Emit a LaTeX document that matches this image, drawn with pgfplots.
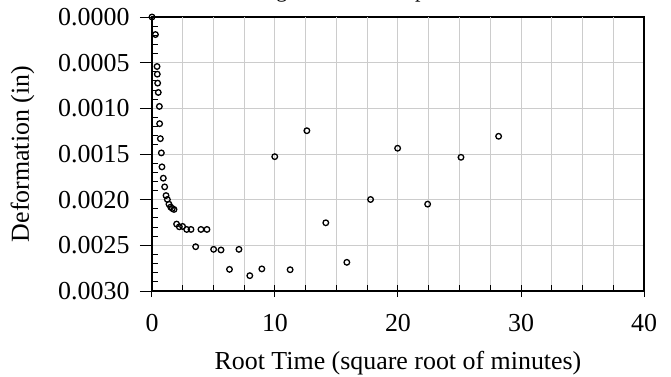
\documentclass[border=0pt]{standalone}
\usepackage{pgfplots}
\pgfplotsset{compat=1.18}
\usepackage{fontspec}
\setmainfont{Liberation Serif}

\begin{document}
\begin{tikzpicture}[font=\fontsize{26}{31}\selectfont]
\begin{axis}[
    scale only axis,
    width=492bp, height=274bp,
    xmin=0, xmax=40,
    ymin=0, ymax=0.003,
    y dir=reverse,
    xtick={0,10,20,30,40},
    ytick={0,0.0005,0.001,0.0015,0.002,0.0025,0.003},
    extra x ticks={2.5,5,7.5,12.5,15,17.5,22.5,25,27.5,32.5,35,37.5},
    extra x tick labels={},
    extra x tick style={tick align=inside, major tick length=6bp, grid=major},
    extra y ticks={0.0001,0.0002,0.0003,0.0004,0.0006,0.0007,0.0008,0.0009,0.0011,0.0012,0.0013,0.0014,0.0016,0.0017,0.0018,0.0019,0.0021,0.0022,0.0023,0.0024,0.0026,0.0027,0.0028,0.0029},
    extra y tick labels={},
    extra y tick style={tick align=inside, major tick length=6bp, grid=none},
    xtick align=center, ytick align=outside,
    major tick length=12bp,
    xtick pos=bottom, ytick pos=left,
    scaled y ticks=false,
    /pgf/number format/assume math mode=true,
    xmajorgrids=true, ymajorgrids=true,
    major grid style={gray!40, line width=1bp},
    tick style={black, line width=1bp},
    axis line style={line width=1.6bp},
    tick label style={font=\fontsize{26}{31}\selectfont},
    xticklabel style={yshift=-14bp},
    yticklabel style={xshift=-7bp, /pgf/number format/.cd, fixed, fixed zerofill, precision=4},
    xlabel={Root Time (square root of minutes)},
    ylabel={Deformation (in)},
    xlabel style={at={(axis description cs:0.5,0)}, anchor=base, yshift=-78bp},
    ylabel style={at={(axis description cs:0,0.5)}, anchor=base, rotate=0, yshift=123bp},
]
\addplot[only marks, mark=o, mark size=2.8bp, mark options={line width=1.3bp, black}] coordinates {
(0,0) (0.28,0.000192) (0.41,0.000542) (0.43,0.000626) (0.46,0.000724)
(0.51,0.000826) (0.60,0.000979) (0.62,0.001168) (0.68,0.001332) (0.76,0.001488)
(0.81,0.001641) (0.92,0.001765) (1.03,0.00186) (1.14,0.001955) (1.25,0.001998)
(1.38,0.002049) (1.52,0.002081) (1.65,0.002097) (1.79,0.002107) (2.00,0.002267)
(2.22,0.002297) (2.49,0.002293) (2.82,0.002326) (3.17,0.002326) (3.55,0.002515)
(3.98,0.002326) (4.47,0.002326) (5.01,0.002544) (5.61,0.002551) (6.30,0.002763)
(7.07,0.002544) (7.95,0.002832) (8.93,0.002758) (9.98,0.001529) (11.23,0.002767)
(12.59,0.001245) (14.13,0.002253) (15.84,0.002686) (17.77,0.001998) (19.97,0.001437)
(22.41,0.002049) (25.12,0.001536) (28.18,0.001306)
};
\coordinate (bl) at (axis cs:0,0.003);
\coordinate (tl) at (axis cs:0,0);
\coordinate (tr) at (axis cs:40,0);
\end{axis}
\node[anchor=base west, inner sep=0pt, font=\fontsize{22}{26}\selectfont] at ([xshift=62bp, yshift=19.5bp]tl) {Loading Increment Step};
\pgfresetboundingbox
\path[use as bounding box] ([shift={(-152bp,-86bp)}]bl) rectangle ([shift={(27bp,17bp)}]tr);
\end{tikzpicture}
\end{document}
